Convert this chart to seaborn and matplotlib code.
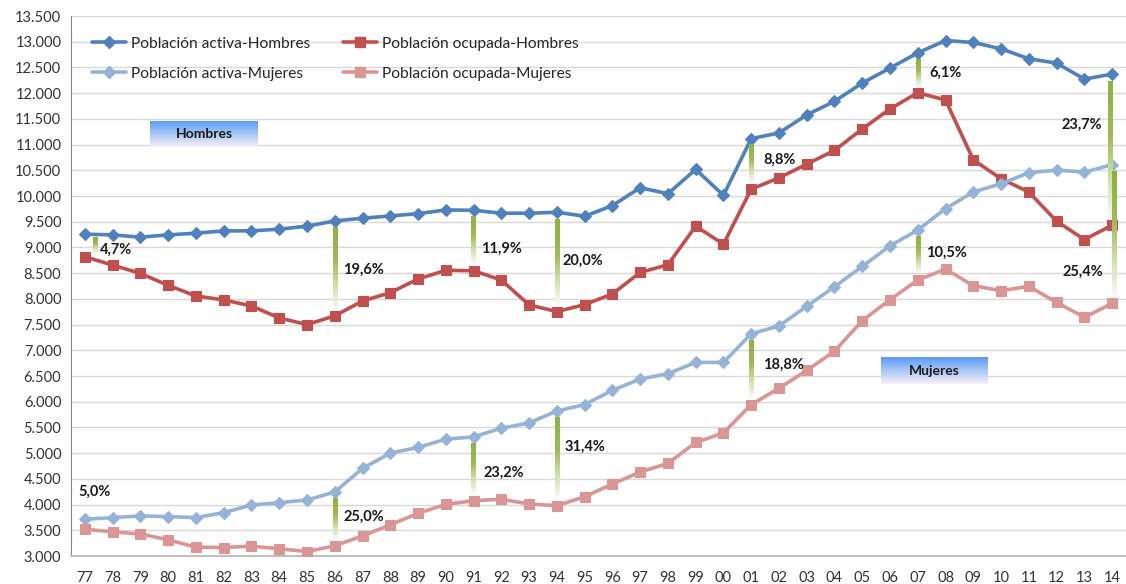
#!/usr/bin/env python3
"""
plot.py - poblacion activa y ocupada por sexo (1977-2014), con brechas marcadas
"""

import numpy as np
import matplotlib
matplotlib.use('Agg')
import matplotlib.pyplot as plt
from matplotlib.colors import LinearSegmentedColormap
from matplotlib.lines import Line2D
import seaborn as sns

# --- data (miles de personas) ---
years = ['77', '78', '79', '80', '81', '82', '83', '84', '85', '86',
         '87', '88', '89', '90', '91', '92', '93', '94', '95', '96',
         '97', '98', '99', '00', '01', '02', '03', '04', '05', '06',
         '07', '08', '09', '10', '11', '12', '13', '14']

activa_h = [9258, 9244, 9200, 9244, 9277, 9322, 9322, 9355, 9413, 9515,
            9568, 9612, 9657, 9729, 9723, 9665, 9665, 9684, 9607, 9812,
            10161, 10045, 10517, 10014, 11115, 11227, 11577, 11841, 12196, 12487,
            12784, 13023, 12985, 12862, 12669, 12584, 12273, 12370]

ocupada_h = [8818, 8657, 8494, 8262, 8056, 7979, 7862, 7630, 7500, 7669,
             7959, 8120, 8386, 8555, 8547, 8366, 7882, 7752, 7888, 8095,
             8514, 8663, 9413, 9064, 10133, 10352, 10620, 10886, 11304, 11692,
             12009, 11866, 10703, 10335, 10078, 9510, 9153, 9432]

activa_m = [3715, 3746, 3779, 3766, 3746, 3843, 3992, 4037, 4089, 4244,
            4703, 5000, 5113, 5271, 5316, 5485, 5587, 5820, 5944, 6221,
            6440, 6545, 6764, 6764, 7320, 7474, 7855, 8236, 8630, 9031,
            9338, 9754, 10078, 10238, 10452, 10504, 10465, 10607]

ocupada_m = [3521, 3469, 3430, 3314, 3172, 3165, 3192, 3140, 3087, 3198,
             3391, 3605, 3831, 4003, 4076, 4103, 4012, 3979, 4153, 4399,
             4632, 4800, 5207, 5393, 5944, 6260, 6608, 6983, 7577, 7984,
             8366, 8579, 8256, 8159, 8242, 7932, 7641, 7913]

# brechas (1 - ocupada/activa) marcadas en el grafico
brecha_h_years = ['77', '86', '91', '94', '01', '07', '14']
brecha_h_pct = ['4,7%', '19,6%', '11,9%', '20,0%', '8,8%', '6,1%', '23,7%']
brecha_m_years = ['77', '86', '91', '94', '01', '07', '14']
brecha_m_pct = ['5,0%', '25,0%', '23,2%', '31,4%', '18,8%', '10,5%', '25,4%']

# --- layout (not data) ---
COLORS = {
    'activa_h': '#4F81BD',
    'ocupada_h': '#C0504D',
    'activa_m': '#95B3D7',
    'ocupada_m': '#DA9694',
}
# label placement: (x offset from year, y value) and bar x offset
LABEL_POS_H = [(0.55, 8950), (0.30, 8570), (0.27, 8970), (0.22, 8740),
               (0.43, 10700), (0.41, 12400), (-1.83, 11380)]
LABEL_POS_M = [(-0.25, 4245), (0.33, 3760), (0.37, 4610), (0.29, 5115),
               (0.43, 6725), (0.30, 8895), (-1.80, 8530)]
BAR_DX_H = [0.37, 0, 0, 0, 0, 0, -0.08]
BAR_DX_M = [0, 0, 0, 0, 0, 0, 0.08]

GREEN_CMAP = LinearSegmentedColormap.from_list(
    'brecha', [(0.0, '#FFF6FA'), (0.3, '#CFE0A8'), (0.6, '#9BBB59'), (1.0, '#8DB33E')])
BOX_CMAP = LinearSegmentedColormap.from_list(
    'caja', [(0.0, '#FAF0FA'), (0.5, '#A9C8F4'), (1.0, '#5A9AF7')])


def setup_style():
    sns.set_style("white")
    plt.rcParams.update({
        'font.family': ['Lato', 'DejaVu Sans'],
        'font.size': 10.5,
    })


def draw_gap(ax, x, hi, lo, cmap):
    # skip gaps too small to show a bar (as in the original)
    if hi - lo < 300:
        return
    inset = min(130, 0.15 * (hi - lo))
    top, bottom = hi - inset, lo + inset
    grad = np.linspace(0, 1, 256).reshape(-1, 1)
    ax.imshow(grad, extent=[x - 0.075, x + 0.075, bottom, top], origin='lower',
              aspect='auto', cmap=cmap, zorder=4, interpolation='bilinear')


def draw_box(ax, x0, x1, y0, y1, text):
    grad = np.linspace(0, 1, 256).reshape(-1, 1)
    ax.imshow(grad, extent=[x0, x1, y0, y1], origin='lower', aspect='auto',
              cmap=BOX_CMAP, zorder=4)
    ax.text((x0 + x1) / 2, (y0 + y1) / 2, text, ha='center', va='center',
            fontsize=10, fontweight='bold', color='#1a1a1a', zorder=5)


def main():
    setup_style()

    fig = plt.figure(figsize=(11.26, 5.84), dpi=100)
    ax = fig.add_axes([71 / 1126, 28 / 584, 1055 / 1126, 540 / 584])

    x = np.arange(len(years))
    series = [
        ('Población activa-Hombres', activa_h, 'activa_h', 'D', 6.5),
        ('Población ocupada-Hombres', ocupada_h, 'ocupada_h', 's', 7.5),
        ('Población activa-Mujeres', activa_m, 'activa_m', 'D', 6.5),
        ('Población ocupada-Mujeres', ocupada_m, 'ocupada_m', 's', 7.5),
    ]
    for label, vals, key, mk, ms in series:
        sns.lineplot(x=x, y=vals, ax=ax, color=COLORS[key], linewidth=2.6,
                     marker=mk, markersize=ms, markeredgecolor=COLORS[key],
                     markeredgewidth=0.8, zorder=3, legend=False)

    # brechas
    for yr, pct, (dx, ly), bdx in zip(brecha_h_years, brecha_h_pct, LABEL_POS_H, BAR_DX_H):
        i = years.index(yr)
        draw_gap(ax, i + bdx, activa_h[i], ocupada_h[i], GREEN_CMAP)
        ax.text(i + dx, ly, pct, ha='left', va='center', fontsize=10.5,
                fontweight='bold', color='#1a1a1a', zorder=5)
    for yr, pct, (dx, ly), bdx in zip(brecha_m_years, brecha_m_pct, LABEL_POS_M, BAR_DX_M):
        i = years.index(yr)
        draw_gap(ax, i + bdx, activa_m[i], ocupada_m[i], GREEN_CMAP)
        ax.text(i + dx, ly, pct, ha='left', va='center', fontsize=10.5,
                fontweight='bold', color='#1a1a1a', zorder=5)

    draw_box(ax, 2.36, 6.22, 10950, 11455, 'Hombres')
    draw_box(ax, 28.67, 32.52, 6337, 6855, 'Mujeres')

    # axes
    ax.set_xlim(-0.5, len(years) - 0.5)
    ax.set_ylim(3000, 13500)
    ax.set_xticks(x)
    ax.set_xticklabels(years)
    yt = np.arange(3000, 13501, 500)
    ax.set_yticks(yt)
    ax.set_yticklabels([f'{v:,.0f}'.replace(',', '.') for v in yt])
    ax.tick_params(axis='x', length=0, pad=11, labelsize=10.5, colors='#333333')
    ax.tick_params(axis='y', length=4, width=1, color='#868686', pad=3,
                   labelsize=10.5, labelcolor='#333333')
    ax.grid(True, axis='y', color='#D9D9D9', linewidth=1)
    ax.set_axisbelow(True)
    for side in ['top', 'right']:
        ax.spines[side].set_visible(False)
    ax.spines['left'].set_color('#868686')
    ax.spines['bottom'].set_color('#BFBFBF')
    ax.spines['bottom'].set_linewidth(1.5)
    ax.set_xlabel('')
    ax.set_ylabel('')

    handles = [Line2D([], [], color=COLORS[key], linewidth=2.6, marker=mk,
                      markersize=ms, markeredgecolor=COLORS[key])
               for _, _, key, mk, ms in series]
    labels = [s[0] for s in series]
    order = [0, 2, 1, 3]
    ax.legend([handles[i] for i in order], [labels[i] for i in order],
              ncol=2, loc='upper left', bbox_to_anchor=(0.0199, 0.962),
              frameon=False, borderpad=0, borderaxespad=0, fontsize=11.2,
              handlelength=2.2, handletextpad=0.3, columnspacing=2.1,
              labelspacing=1.05)

    fig.savefig('out.png', dpi=100, facecolor='white')
    plt.close(fig)


if __name__ == "__main__":
    main()
